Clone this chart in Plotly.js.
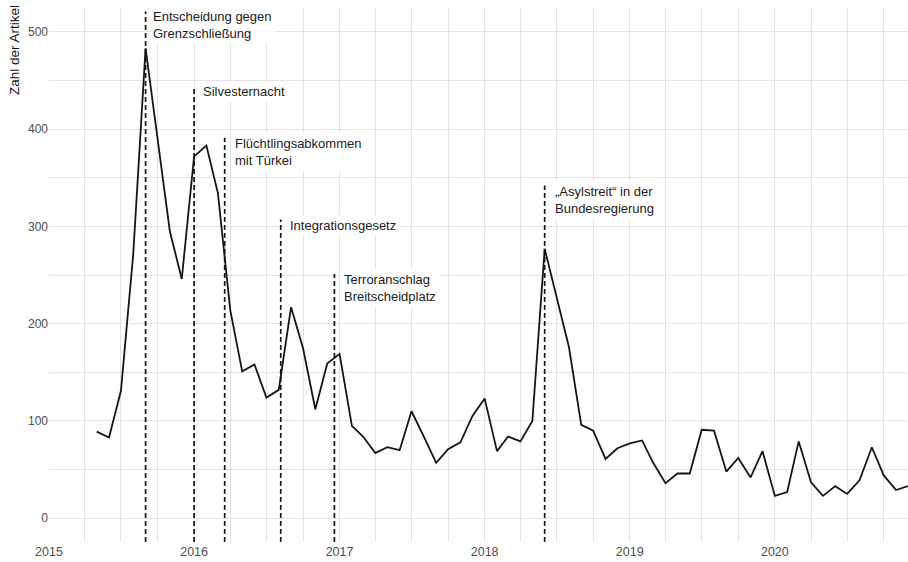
<!DOCTYPE html>
<html>
<head>
<meta charset="utf-8">
<script src="https://cdn.plot.ly/plotly-3.0.1.min.js"></script>
<style>html,body{margin:0;padding:0;background:#fff;}#chart{width:908px;height:562px;}</style>
</head>
<body>
<div id="chart"></div>
<script>
// ---- data ----
const months = [
  '2015-05-01','2015-06-01','2015-07-01','2015-08-01','2015-09-01','2015-10-01','2015-11-01','2015-12-01',
  '2016-01-01','2016-02-01','2016-03-01','2016-04-01','2016-05-01','2016-06-01','2016-07-01','2016-08-01','2016-09-01','2016-10-01','2016-11-01','2016-12-01',
  '2017-01-01','2017-02-01','2017-03-01','2017-04-01','2017-05-01','2017-06-01','2017-07-01','2017-08-01','2017-09-01','2017-10-01','2017-11-01','2017-12-01',
  '2018-01-01','2018-02-01','2018-03-01','2018-04-01','2018-05-01','2018-06-01','2018-07-01','2018-08-01','2018-09-01','2018-10-01','2018-11-01','2018-12-01',
  '2019-01-01','2019-02-01','2019-03-01','2019-04-01','2019-05-01','2019-06-01','2019-07-01','2019-08-01','2019-09-01','2019-10-01','2019-11-01','2019-12-01',
  '2020-01-01','2020-02-01','2020-03-01','2020-04-01','2020-05-01','2020-06-01','2020-07-01','2020-08-01','2020-09-01','2020-10-01','2020-11-01','2020-12-01'
];
const articles = [
  89, 83, 131, 272, 483, 393, 295, 246,
  372, 383, 334, 214, 151, 158, 124, 132, 217, 175, 112, 159,
  169, 95, 84, 67, 73, 70, 110, 84, 57, 71, 78, 105,
  123, 69, 84, 79, 100, 277, 228, 176, 96, 90, 61, 72,
  77, 80, 57, 36, 46, 46, 91, 90, 48, 62, 42, 69,
  23, 27, 79, 37, 23, 33, 25, 39, 73, 44, 29, 33
];
const eventDates = ['2015-09-01','2016-01-01','2016-03-18','2016-08-06','2016-12-19','2018-06-01'];
const eventLabels = [
  'Entscheidung gegen<br>Grenzschließung',
  'Silvesternacht',
  'Flüchtlingsabkommen<br>mit Türkei',
  'Integrationsgesetz',
  'Terroranschlag<br>Breitscheidplatz',
  '„Asylstreit“ in der<br>Bundesregierung'
];
const eventTops = [521, 444, 391, 307, 251, 342];
const yTitle = 'Zahl der Artikel';

// ---- layout / style ----
const FONT = 'Liberation Sans, Arial, Helvetica, sans-serif';
const GRID = '#e3e3e3';
const Y_MIN = -24.4, Y_MAX = 525.5;
const labelShift = [4, 6, 7, 6, 7, 7];

const shapes = eventDates.map((d, i) => ({
  type: 'line', xref: 'x', yref: 'y',
  x0: d, x1: d, y0: Y_MIN, y1: eventTops[i],
  line: {color: '#111', width: 1.7, dash: '5px,3px'},
  layer: 'above'
}));

const annotations = eventDates.map((d, i) => ({
  x: d, y: eventTops[i], xref: 'x', yref: 'y',
  text: eventLabels[i], showarrow: false,
  xanchor: 'left', yanchor: 'top', align: 'left',
  xshift: labelShift[i], yshift: 5,
  bgcolor: '#ffffff', borderpad: 3, borderwidth: 0,
  font: {family: FONT, size: 13, color: '#1a1a1a'}
}));

annotations.push({
  xref: 'paper', yref: 'paper', x: 0, y: 1,
  xshift: -35, yshift: 4,
  xanchor: 'center', yanchor: 'top',
  textangle: -90, text: yTitle, showarrow: false,
  font: {family: FONT, size: 13.5, color: '#111'}
});

const trace = {
  x: months, y: articles, type: 'scatter', mode: 'lines',
  line: {color: '#151515', width: 1.8},
  hoverinfo: 'x+y'
};

const layout = {
  width: 908, height: 562,
  margin: {l: 49, r: 0, t: 7, b: 20},
  paper_bgcolor: '#ffffff', plot_bgcolor: '#ffffff',
  showlegend: false,
  font: {family: FONT, size: 12, color: '#4d4d4d'},
  xaxis: {
    type: 'date',
    range: ['2015-01-01', '2020-12-01'],
    tick0: '2015-01-01', dtick: 'M12', tickformat: '%Y',
    showgrid: true, gridcolor: GRID, gridwidth: 1,
    minor: {dtick: 'M3', showgrid: true, gridcolor: GRID, gridwidth: 1},
    zeroline: false, showline: false, ticks: '',
    tickfont: {family: FONT, size: 12.5, color: '#4d4d4d'}
  },
  yaxis: {
    range: [Y_MIN, Y_MAX],
    tick0: 0, dtick: 100,
    showgrid: true, gridcolor: GRID, gridwidth: 1,
    minor: {dtick: 50, showgrid: true, gridcolor: GRID, gridwidth: 1},
    zeroline: false, showline: false, ticks: '',
    tickfont: {family: FONT, size: 12, color: '#4d4d4d'}
  },
  shapes: shapes,
  annotations: annotations
};

Plotly.newPlot('chart', [trace], layout, {displayModeBar: false, staticPlot: true});
</script>
</body>
</html>
